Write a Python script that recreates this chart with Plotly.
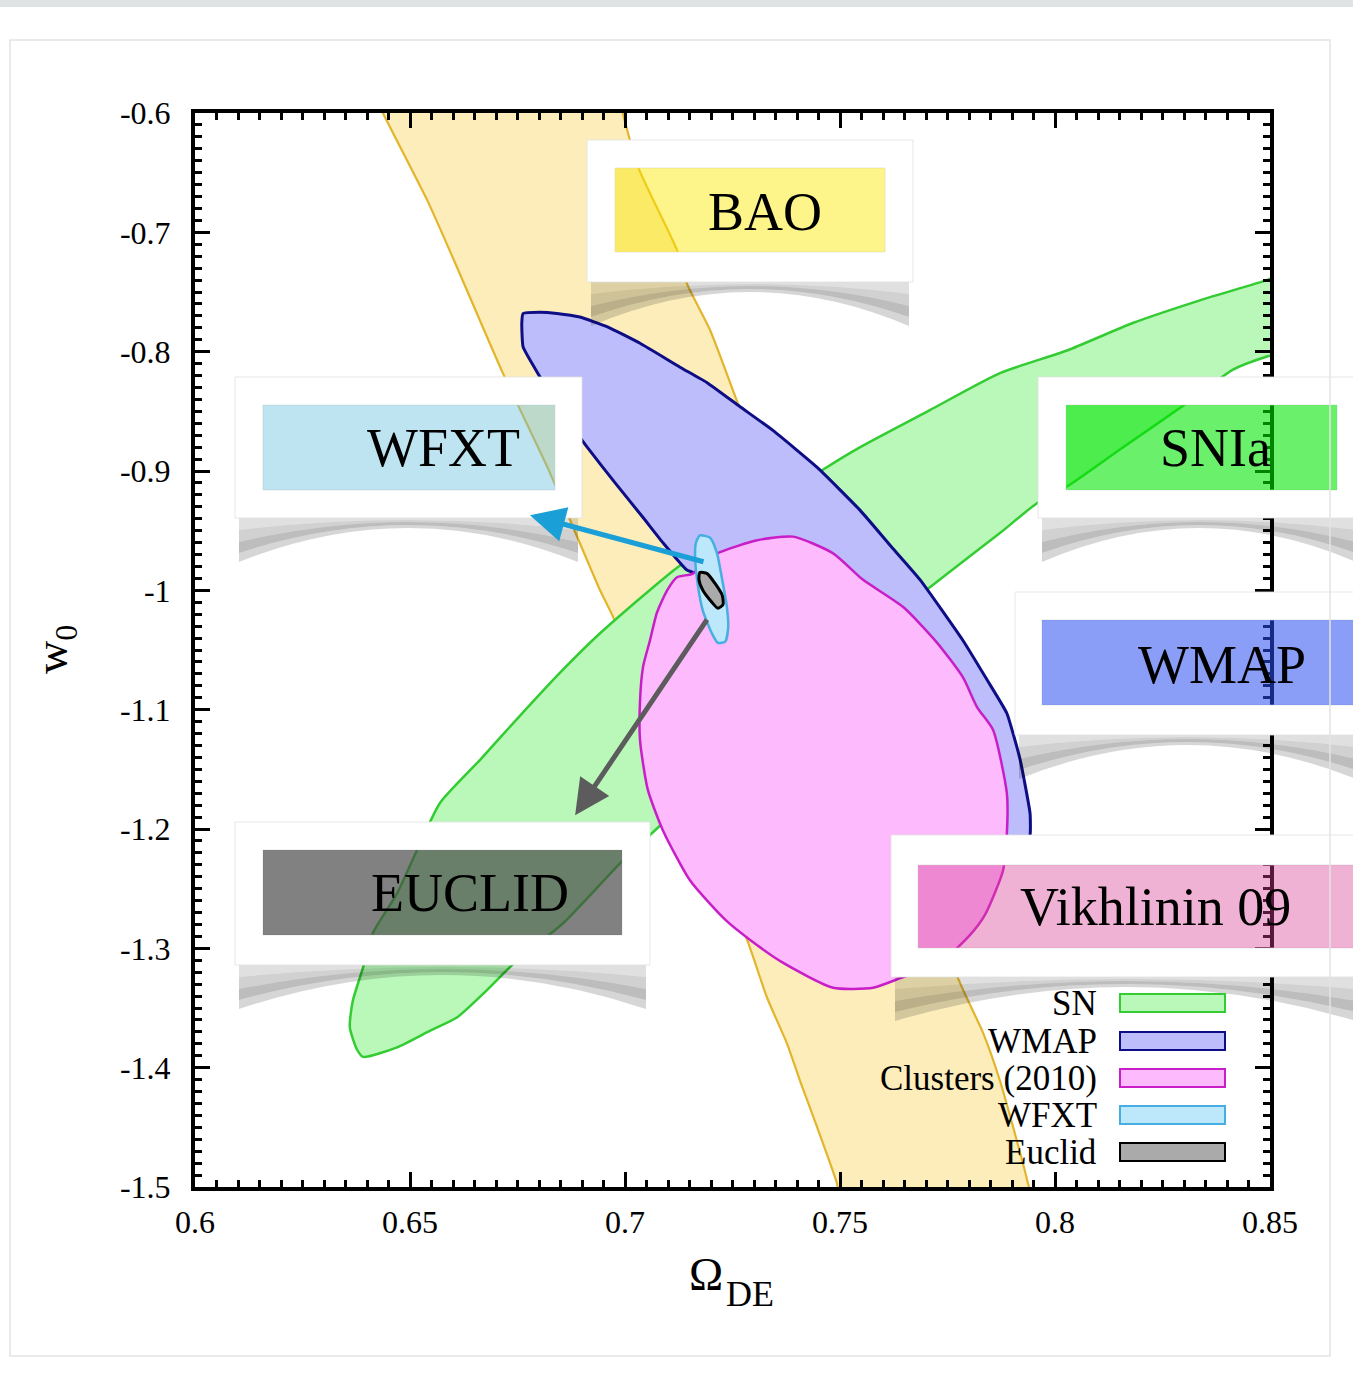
import plotly.graph_objects as go

# ---------------- data (data units) ----------------
bao_left_x = [0.6425, 0.6437, 0.6540, 0.6609, 0.6716, 0.6821, 0.6942, 0.6972, 0.7128, 0.7284, 0.7330, 0.7377, 0.7407, 0.7447, 0.7493, 0.7500]
bao_left_y = [-0.590, -0.600, -0.673, -0.729, -0.818, -0.898, -1.000, -1.022, -1.159, -1.293, -1.341, -1.380, -1.411, -1.450, -1.497, -1.510]
bao_right_x = [0.7942, 0.7935, 0.7872, 0.7833, 0.7779, 0.7528, 0.7260, 0.7198, 0.7144, 0.7121, 0.7030, 0.6995, 0.6990]
bao_right_y = [-1.510, -1.494, -1.411, -1.371, -1.329, -1.092, -0.841, -0.782, -0.743, -0.715, -0.645, -0.600, -0.590]

sn_x = [0.8547, 0.8493, 0.8337, 0.8181, 0.8028, 0.7872, 0.7709, 0.7547, 0.7460, 0.7291, 0.7121, 0.6942,
        0.6849, 0.6756, 0.6663, 0.6570, 0.6516, 0.6470, 0.6414, 0.6391, 0.6367, 0.6360, 0.6377, 0.6391,
        0.6470, 0.6547, 0.6609, 0.6679, 0.6749, 0.6856, 0.6988, 0.7088, 0.7291, 0.7523, 0.7721, 0.7872,
        0.7958, 0.8028, 0.8151, 0.8307, 0.8414, 0.8493, 0.8547]
sn_y = [-0.733, -0.740, -0.757, -0.776, -0.799, -0.818, -0.849, -0.880, -0.899, -0.940, -0.981, -1.036,
        -1.069, -1.105, -1.142, -1.178, -1.218, -1.254, -1.287, -1.316, -1.344, -1.366, -1.385, -1.391,
        -1.383, -1.369, -1.358, -1.335, -1.310, -1.279, -1.229, -1.195, -1.126, -1.050, -0.994, -0.952,
        -0.927, -0.913, -0.882, -0.843, -0.815, -0.804, -0.799]

wmap_x = [0.6760, 0.6763, 0.6802, 0.6842, 0.6895, 0.6958, 0.7035, 0.7128, 0.7191, 0.7267, 0.7344, 0.7447,
          0.7547, 0.7616, 0.7686, 0.7786, 0.7842, 0.7888, 0.7919, 0.7942, 0.7942, 0.7919, 0.7872, 0.7779,
          0.7640, 0.7500, 0.7360, 0.7244, 0.7174, 0.7144, 0.7088, 0.7042, 0.6977, 0.6912, 0.6849, 0.6802,
          0.6763]
wmap_y = [-0.776, -0.768, -0.767, -0.768, -0.771, -0.779, -0.793, -0.813, -0.826, -0.846, -0.866, -0.897,
          -0.933, -0.962, -0.991, -1.042, -1.075, -1.103, -1.142, -1.187, -1.205, -1.224, -1.224, -1.188,
          -1.130, -1.075, -1.029, -1.000, -0.987, -0.983, -0.960, -0.939, -0.910, -0.880, -0.849, -0.821,
          -0.796]

clus_x = [0.7158, 0.7121, 0.7098, 0.7074, 0.7058, 0.7042, 0.7035, 0.7035, 0.7053, 0.7088, 0.7151, 0.7233,
          0.7291, 0.7367, 0.7484, 0.7577, 0.7640, 0.7733, 0.7802, 0.7837, 0.7879, 0.7888, 0.7888, 0.7856,
          0.7819, 0.7786, 0.7726, 0.7647, 0.7553, 0.7484, 0.7391, 0.7307, 0.7221, 0.7186]
clus_y = [-0.986, -0.989, -1.000, -1.019, -1.042, -1.064, -1.092, -1.126, -1.167, -1.201, -1.243, -1.276,
          -1.293, -1.312, -1.333, -1.333, -1.325, -1.312, -1.289, -1.272, -1.235, -1.204, -1.170, -1.117,
          -1.098, -1.073, -1.044, -1.014, -0.991, -0.969, -0.955, -0.958, -0.968, -0.975]

wfxt_x = [0.7174, 0.7198, 0.7214, 0.7226, 0.7237, 0.7240, 0.7233, 0.7216, 0.7202, 0.7181, 0.7170, 0.7163, 0.7165]
wfxt_y = [-0.954, -0.956, -0.969, -0.991, -1.014, -1.031, -1.043, -1.044, -1.036, -1.017, -0.997, -0.972, -0.960]

euclid_x = [0.7174, 0.7191, 0.7209, 0.7226, 0.7228, 0.7216, 0.7202, 0.7181, 0.7172]
euclid_y = [-0.985, -0.986, -0.994, -1.004, -1.012, -1.015, -1.010, -1.000, -0.991]

x_tickvals = [0.6, 0.65, 0.7, 0.75, 0.8, 0.85]
x_ticktext = ["0.6", "0.65", "0.7", "0.75", "0.8", "0.85"]
y_tickvals = [-0.6, -0.7, -0.8, -0.9, -1.0, -1.1, -1.2, -1.3, -1.4, -1.5]
y_ticktext = ["-0.6", "-0.7", "-0.8", "-0.9", "-1", "-1.1", "-1.2", "-1.3", "-1.4", "-1.5"]

legend_names = ["SN", "WMAP", "Clusters (2010)", "WFXT", "Euclid"]
box_labels = ["BAO", "WFXT", "SNIa", "WMAP", "EUCLID", "Vikhlinin 09"]

# ---------------- styles ----------------
SERIF = "Liberation Serif, Times New Roman, serif"
styles = {
    "BAO": dict(fill="#fcedbb", line="#e3b52c"),
    "SN": dict(fill="#b9f8b9", line="#33cc33"),
    "WMAP": dict(fill="#bdbdfb", line="#0d0d85"),
    "Clusters": dict(fill="#fdbafc", line="#c81ec8"),
    "WFXT": dict(fill="#bde8fb", line="#46aee0"),
    "Euclid": dict(fill="#aaaaaa", line="#000000"),
}

fig = go.Figure()


def poly(xs, ys, st, width=2.5, smooth=0.6):
    fig.add_trace(go.Scatter(
        x=xs + [xs[0]], y=ys + [ys[0]], mode="lines", fill="toself",
        fillcolor=st["fill"], line=dict(color=st["line"], width=width, shape="spline", smoothing=smooth),
        hoverinfo="skip", showlegend=False))


poly(bao_left_x + bao_right_x, bao_left_y + bao_right_y, styles["BAO"], 2.2)
poly(sn_x, sn_y, styles["SN"])
poly(wmap_x, wmap_y, styles["WMAP"], 3, 0.4)
poly(clus_x, clus_y, styles["Clusters"])
poly(wfxt_x, wfxt_y, styles["WFXT"])
poly(euclid_x, euclid_y, styles["Euclid"], 3)

# ---------------- pixel -> paper helpers (layout only) ----------------
L, R, T, B = 195, 1270, 113, 1187


def px(v):
    return (v - L) / (R - L)


def py(v):
    return (B - v) / (B - T)


shapes = []
annotations = []

# boxes: outer frame, inner rect, fill colour, text centre
boxes = [
    ((587, 140, 913, 282), (615, 168, 885, 252), "rgba(250,230,0,0.46)", (765, 212)),
    ((235, 377, 582, 518), (263, 405, 555, 490), "rgba(100,190,225,0.42)", (443, 448)),
    ((1038, 377, 1370, 518), (1066, 405, 1337, 490), "rgba(0,230,0,0.58)", (1215, 448)),
    ((1015, 592, 1370, 735), (1042, 620, 1370, 705), "rgba(42,79,242,0.55)", (1222, 665)),
    ((235, 822, 650, 965), (263, 850, 622, 935), "rgba(70,70,70,0.68)", (470, 893)),
    ((891, 835, 1370, 977), (918, 865, 1370, 948), "rgba(217,62,147,0.40)", (1155, 907)),
]


def arc(xa, xb, yb, depth, mid):
    """quadratic arc: corners at yb+depth, middle at yb+mid (pixel space)"""
    xm = (xa + xb) / 2
    yc = 2 * (yb + mid) - (yb + depth)
    return xm, yc


# curled-paper shadows: crescent bands, darker toward lower edge
for (o, i, c, t) in boxes:
    x0, y0, x1, y1 = o
    x1 = min(x1, 1360)
    xa, xb = x0 + 4, x1 - 4
    levels = [(0, 0), (12, 2), (24, 4), (35, 7), (44, 10)]
    ops = [0.12, 0.18, 0.26, 0.16]
    for k in range(len(levels) - 1):
        d1, m1 = levels[k]
        d2, m2 = levels[k + 1]
        xm, yc1 = arc(xa, xb, y1, d1, m1)
        _, yc2 = arc(xa, xb, y1, d2, m2)
        path = (f"M{px(xa)},{py(y1 + d1)} Q{px(xm)},{py(yc1)} {px(xb)},{py(y1 + d1)} "
                f"L{px(xb)},{py(y1 + d2)} Q{px(xm)},{py(yc2)} {px(xa)},{py(y1 + d2)} Z")
        shapes.append(dict(type="path", path=path, xref="paper", yref="paper",
                           fillcolor=f"rgba(0,0,0,{ops[k]})", line=dict(width=0), layer="above"))

# white frames with holes and translucent inner rectangles
for (o, i, c, t), label in zip(boxes, box_labels):
    x0, y0, x1, y1 = o
    a0, b0, a1, b1 = i
    path = (f"M{px(x0)},{py(y0)} L{px(x1)},{py(y0)} L{px(x1)},{py(y1)} L{px(x0)},{py(y1)} Z "
            f"M{px(a0)},{py(b0)} L{px(a1)},{py(b0)} L{px(a1)},{py(b1)} L{px(a0)},{py(b1)} Z")
    shapes.append(dict(type="path", path=path, xref="paper", yref="paper", fillrule="evenodd",
                       fillcolor="white", line=dict(color="rgba(225,225,225,0.8)", width=1), layer="above"))
    shapes.append(dict(type="rect", xref="paper", yref="paper", x0=px(a0), x1=px(a1), y0=py(b1), y1=py(b0),
                       fillcolor=c, line=dict(width=0), layer="above"))
    annotations.append(dict(text=label, x=px(t[0]), y=py(t[1]), xref="paper", yref="paper",
                            showarrow=False, font=dict(family=SERIF, size=54, color="black"),
                            xanchor="center", yanchor="middle"))

# manual legend (text left of swatch)
leg_keys = ["SN", "WMAP", "Clusters", "WFXT", "Euclid"]
leg_y = [1003, 1041, 1078, 1115, 1152]
for name, key, yy in zip(legend_names, leg_keys, leg_y):
    st = styles[key]
    shapes.append(dict(type="rect", xref="paper", yref="paper", x0=px(1120), x1=px(1225),
                       y0=py(yy + 9), y1=py(yy - 9), fillcolor=st["fill"],
                       line=dict(color=st["line"], width=2), layer="above"))
    annotations.append(dict(text=name, x=px(1099), y=py(yy), xref="paper", yref="paper",
                            showarrow=False, font=dict(family=SERIF, size=35, color="black"),
                            xanchor="right", yanchor="middle"))

# page decoration: top bar and card border
shapes.append(dict(type="rect", xref="paper", yref="paper", x0=px(0), x1=px(1353), y0=py(0), y1=py(7),
                   fillcolor="#dfe3e3", line=dict(width=0), layer="above"))
shapes.append(dict(type="rect", xref="paper", yref="paper", x0=px(10), x1=px(1330), y0=py(1356), y1=py(40),
                   fillcolor="rgba(0,0,0,0)", line=dict(color="#e4e4e4", width=1.5), layer="above"))

# arrows
annotations.append(dict(x=0.6779, y=-0.9370, ax=0.7186, ay=-0.9764, xref="x", yref="y", axref="x", ayref="y",
                        text="", showarrow=True, arrowhead=2, arrowsize=1.4, arrowwidth=5,
                        arrowcolor="#1a9fd6", standoff=0))
annotations.append(dict(x=0.6884, y=-1.1884, ax=0.7193, ay=-1.0233, xref="x", yref="y", axref="x", ayref="y",
                        text="", showarrow=True, arrowhead=2, arrowsize=1.4, arrowwidth=5,
                        arrowcolor="#5c5c5c", standoff=0))

# axis titles
annotations.append(dict(text="Ω", x=px(706), y=py(1274), xref="paper", yref="paper",
                        showarrow=False, font=dict(family=SERIF, size=46, color="black"),
                        xanchor="center", yanchor="middle"))
annotations.append(dict(text="DE", x=px(724), y=py(1294), xref="paper", yref="paper",
                        showarrow=False, font=dict(family=SERIF, size=36, color="black"),
                        xanchor="left", yanchor="middle"))
annotations.append(dict(text="w<sub>0</sub>", x=px(55), y=py(650), xref="paper", yref="paper",
                        showarrow=False, textangle=-90, font=dict(family=SERIF, size=46, color="black"),
                        xanchor="center", yanchor="middle"))

axis_common = dict(showline=True, linecolor="black", linewidth=4, mirror="ticks", ticks="inside",
                   ticklen=15, tickwidth=3, tickcolor="black", showgrid=False, zeroline=False,
                   tickfont=dict(family=SERIF, size=32, color="black"))

fig.update_layout(
    width=1353, height=1385,
    margin=dict(l=L, r=1353 - R, t=T, b=1385 - B),
    paper_bgcolor="white", plot_bgcolor="white",
    showlegend=False,
    shapes=shapes, annotations=annotations,
    xaxis=dict(range=[0.6, 0.85], tickmode="array", tickvals=x_tickvals, ticktext=x_ticktext,
               minor=dict(tickmode="linear", tick0=0.6, dtick=0.005, ticklen=7, tickwidth=3,
                          tickcolor="black", ticks="inside", showgrid=False),
               ticklabelstandoff=4, **axis_common),
    yaxis=dict(range=[-1.5, -0.6], tickmode="array", tickvals=y_tickvals, ticktext=y_ticktext,
               minor=dict(tickmode="linear", tick0=-1.5, dtick=0.01, ticklen=7, tickwidth=3,
                          tickcolor="black", ticks="inside", showgrid=False),
               ticklabelstandoff=14, **axis_common),
)

fig.write_html("out.html")
